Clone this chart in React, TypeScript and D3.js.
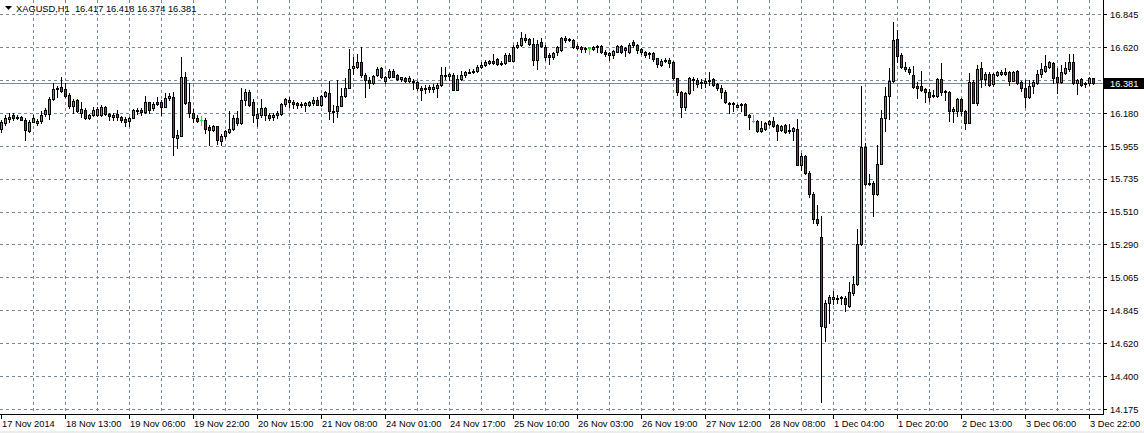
import React from 'react';
import * as d3 from 'd3';

const W = 1144;
const H = 433;

const symbol = 'XAGUSD,H1';
const lastPrice = 16.381;

const opens = [
  16.073,16.111,16.140,16.165,16.156,16.154,16.134,16.055,16.122,16.111,
  16.127,16.174,16.174,16.273,16.343,16.354,16.340,16.302,16.228,16.268,
  16.183,16.201,16.149,16.167,16.167,16.167,16.223,16.170,16.152,16.170,
  16.152,16.140,16.125,16.149,16.192,16.201,16.185,16.251,16.212,16.257,
  16.253,16.223,16.280,16.291,16.010,16.026,16.421,16.251,16.179,16.145,
  16.134,16.134,16.084,16.062,16.089,15.992,16.021,16.048,16.071,16.143,
  16.111,16.268,16.320,16.251,16.149,16.167,16.212,16.167,16.156,16.163,
  16.172,16.239,16.268,16.251,16.246,16.231,16.231,16.235,16.246,16.269,
  16.235,16.296,16.314,16.195,16.190,16.228,16.296,16.352,16.483,16.489,
  16.523,16.438,16.404,16.381,16.438,16.483,16.393,16.422,16.465,16.438,
  16.408,16.415,16.397,16.399,16.386,16.352,16.341,16.354,16.343,16.348,
  16.366,16.438,16.433,16.438,16.336,16.411,16.438,16.456,16.460,16.467,
  16.492,16.507,16.521,16.532,16.543,16.521,16.516,16.573,16.532,16.624,
  16.640,16.690,16.678,16.647,16.539,16.658,16.629,16.573,16.555,16.595,
  16.606,16.690,16.681,16.674,16.636,16.627,16.618,16.618,16.613,16.624,
  16.636,16.595,16.584,16.573,16.595,16.636,16.608,16.590,16.658,16.640,
  16.613,16.590,16.579,16.583,16.550,16.504,16.532,16.538,16.527,16.415,
  16.320,16.217,16.313,16.410,16.403,16.392,16.381,16.397,16.408,16.374,
  16.352,16.320,16.250,16.246,16.221,16.239,16.241,16.167,16.127,16.127,
  16.061,16.070,16.108,16.127,16.100,16.066,16.100,16.068,16.061,16.070,
  15.830,15.890,15.773,15.634,15.465,15.341,14.734,14.896,14.925,14.930,
  14.930,14.930,14.873,14.963,15.024,15.294,15.949,15.706,15.706,15.632,
  15.836,16.144,16.295,16.399,16.680,16.572,16.493,16.477,16.437,16.363,
  16.363,16.340,16.325,16.297,16.297,16.408,16.329,16.320,16.190,16.194,
  16.273,16.194,16.115,16.387,16.250,16.482,16.408,16.442,16.374,16.437,
  16.446,16.455,16.455,16.399,16.464,16.387,16.347,16.291,16.365,16.381,
  16.442,16.464,16.493,16.516,16.426,16.392,16.448,16.475,16.527,16.381,
  16.410,16.381,16.381,16.417,
];

const highs = [
  16.134,16.165,16.179,16.179,16.163,16.161,16.145,16.129,16.167,16.138,
  16.190,16.212,16.291,16.381,16.363,16.421,16.381,16.313,16.273,16.275,
  16.257,16.212,16.174,16.219,16.219,16.235,16.228,16.183,16.179,16.201,
  16.161,16.156,16.156,16.206,16.212,16.212,16.295,16.257,16.257,16.291,
  16.268,16.313,16.318,16.320,16.066,16.556,16.460,16.381,16.206,16.167,
  16.161,16.145,16.098,16.098,16.093,16.037,16.066,16.190,16.167,16.190,
  16.347,16.340,16.336,16.273,16.212,16.273,16.219,16.183,16.183,16.190,
  16.246,16.284,16.291,16.268,16.257,16.253,16.253,16.258,16.291,16.291,
  16.303,16.330,16.397,16.235,16.404,16.348,16.415,16.613,16.557,16.577,
  16.624,16.449,16.426,16.438,16.494,16.489,16.433,16.478,16.478,16.444,
  16.426,16.422,16.433,16.411,16.393,16.359,16.366,16.366,16.377,16.381,
  16.494,16.494,16.453,16.449,16.438,16.465,16.465,16.474,16.478,16.505,
  16.523,16.539,16.539,16.577,16.550,16.528,16.588,16.584,16.640,16.663,
  16.726,16.714,16.685,16.685,16.674,16.685,16.640,16.584,16.595,16.636,
  16.696,16.701,16.690,16.681,16.645,16.636,16.629,16.622,16.636,16.640,
  16.640,16.606,16.595,16.606,16.640,16.640,16.628,16.651,16.673,16.644,
  16.622,16.599,16.595,16.595,16.554,16.545,16.550,16.554,16.532,16.419,
  16.329,16.325,16.426,16.426,16.415,16.410,16.415,16.455,16.415,16.385,
  16.370,16.336,16.257,16.257,16.239,16.246,16.246,16.174,16.167,16.133,
  16.127,16.117,16.133,16.156,16.104,16.100,16.104,16.104,16.082,16.140,
  15.908,15.897,15.785,15.643,15.560,15.481,14.912,14.952,14.979,14.952,
  14.941,14.941,15.037,15.076,15.398,16.365,15.976,15.767,15.717,15.964,
  16.201,16.358,16.482,16.797,16.741,16.583,16.527,16.493,16.498,16.392,
  16.464,16.352,16.342,16.336,16.414,16.516,16.336,16.329,16.223,16.280,
  16.280,16.201,16.448,16.403,16.504,16.527,16.459,16.455,16.448,16.464,
  16.471,16.482,16.464,16.464,16.471,16.399,16.403,16.403,16.403,16.471,
  16.516,16.572,16.532,16.527,16.482,16.504,16.527,16.577,16.577,16.410,
  16.414,16.392,16.426,16.418,
];

const lows = [
  16.048,16.100,16.122,16.134,16.138,16.129,15.994,16.048,16.116,16.100,
  16.111,16.161,16.138,16.268,16.291,16.325,16.291,16.212,16.183,16.185,
  16.156,16.138,16.138,16.161,16.161,16.161,16.163,16.134,16.134,16.129,
  16.122,16.089,16.093,16.145,16.174,16.167,16.179,16.179,16.201,16.235,
  16.167,16.219,16.268,15.895,15.942,16.021,16.242,16.156,16.116,16.122,
  16.100,16.044,15.965,16.055,15.972,15.965,16.010,16.044,16.066,16.100,
  16.107,16.235,16.228,16.116,16.093,16.156,16.129,16.129,16.134,16.145,
  16.167,16.228,16.223,16.212,16.212,16.217,16.195,16.224,16.235,16.231,
  16.228,16.291,16.141,16.118,16.156,16.224,16.291,16.348,16.442,16.483,
  16.426,16.287,16.348,16.375,16.433,16.415,16.381,16.415,16.420,16.406,
  16.399,16.388,16.388,16.343,16.336,16.269,16.314,16.325,16.325,16.285,
  16.359,16.411,16.404,16.332,16.332,16.404,16.426,16.449,16.451,16.460,
  16.487,16.500,16.510,16.510,16.505,16.505,16.512,16.528,16.528,16.618,
  16.636,16.663,16.640,16.505,16.476,16.624,16.539,16.510,16.545,16.573,
  16.602,16.663,16.667,16.618,16.613,16.595,16.595,16.577,16.606,16.595,
  16.584,16.568,16.539,16.550,16.590,16.584,16.568,16.583,16.628,16.583,
  16.577,16.561,16.554,16.534,16.493,16.500,16.522,16.493,16.410,16.302,
  16.156,16.201,16.307,16.336,16.358,16.352,16.358,16.370,16.365,16.336,
  16.284,16.246,16.178,16.190,16.217,16.190,16.163,16.073,16.117,16.054,
  16.054,16.066,16.100,16.088,15.998,16.059,16.043,16.043,15.998,15.825,
  15.796,15.767,15.609,15.436,15.420,14.228,14.637,14.761,14.889,14.896,
  14.889,14.840,14.867,14.952,15.015,15.290,15.690,15.695,15.481,15.627,
  15.834,16.061,16.140,16.392,16.527,16.482,16.466,16.442,16.352,16.280,
  16.329,16.253,16.262,16.291,16.291,16.302,16.268,16.127,16.122,16.160,
  16.167,16.070,16.111,16.246,16.235,16.358,16.369,16.363,16.365,16.430,
  16.437,16.437,16.369,16.397,16.374,16.329,16.217,16.284,16.313,16.374,
  16.426,16.455,16.486,16.381,16.318,16.385,16.442,16.464,16.376,16.309,
  16.365,16.358,16.369,16.374,
];

const closes = [
  16.122,16.145,16.156,16.143,16.145,16.134,16.066,16.122,16.149,16.127,
  16.167,16.201,16.273,16.340,16.352,16.331,16.298,16.228,16.264,16.190,
  16.210,16.145,16.167,16.201,16.206,16.219,16.170,16.161,16.167,16.152,
  16.134,16.122,16.149,16.197,16.201,16.188,16.251,16.201,16.242,16.239,
  16.219,16.284,16.298,16.017,16.030,16.426,16.246,16.179,16.145,16.125,
  16.134,16.071,16.066,16.089,15.994,16.026,16.055,16.073,16.145,16.111,
  16.268,16.325,16.235,16.167,16.174,16.215,16.167,16.145,16.167,16.179,
  16.242,16.273,16.251,16.242,16.235,16.242,16.246,16.251,16.269,16.235,
  16.296,16.321,16.190,16.186,16.228,16.296,16.352,16.478,16.496,16.523,
  16.438,16.402,16.381,16.433,16.476,16.422,16.422,16.465,16.424,16.411,
  16.424,16.397,16.415,16.388,16.348,16.336,16.352,16.343,16.354,16.370,
  16.438,16.431,16.442,16.336,16.411,16.438,16.460,16.460,16.465,16.494,
  16.505,16.523,16.528,16.516,16.512,16.514,16.573,16.532,16.624,16.640,
  16.690,16.674,16.647,16.539,16.647,16.636,16.557,16.555,16.584,16.629,
  16.690,16.674,16.674,16.629,16.622,16.613,16.613,16.618,16.629,16.636,
  16.595,16.577,16.573,16.602,16.636,16.595,16.622,16.640,16.640,16.606,
  16.590,16.572,16.583,16.545,16.509,16.532,16.538,16.520,16.415,16.325,
  16.217,16.318,16.415,16.403,16.374,16.381,16.399,16.403,16.370,16.347,
  16.320,16.253,16.246,16.239,16.235,16.235,16.167,16.154,16.127,16.059,
  16.077,16.111,16.127,16.095,16.059,16.095,16.050,16.061,16.077,15.830,
  15.890,15.773,15.632,15.465,15.436,14.738,14.896,14.936,14.934,14.923,
  14.934,14.885,14.970,15.024,15.294,15.953,15.699,15.699,15.632,15.834,
  16.144,16.295,16.399,16.673,16.567,16.489,16.475,16.455,16.358,16.347,
  16.336,16.320,16.291,16.302,16.408,16.325,16.320,16.194,16.205,16.273,
  16.194,16.115,16.387,16.250,16.477,16.410,16.442,16.369,16.442,16.455,
  16.455,16.446,16.399,16.455,16.381,16.347,16.291,16.365,16.387,16.442,
  16.477,16.500,16.527,16.419,16.392,16.455,16.482,16.527,16.381,16.403,
  16.369,16.374,16.419,16.381,
];

const timeLabels = [
  '17 Nov 2014', '18 Nov 13:00', '19 Nov 06:00', '19 Nov 22:00', '20 Nov 15:00',
  '21 Nov 08:00', '24 Nov 01:00', '24 Nov 17:00', '25 Nov 10:00', '26 Nov 03:00',
  '26 Nov 19:00', '27 Nov 12:00', '28 Nov 08:00', '1 Dec 04:00', '1 Dec 20:00',
  '2 Dec 13:00', '3 Dec 06:00', '3 Dec 22:00',
];
const barsPerLabel = 16;
const barsPerGrid = 8;

const priceTicks = [16.845, 16.6225, 16.4, 16.1775, 15.955, 15.7325, 15.51, 15.2875, 15.065, 14.8425, 14.62, 14.3975, 14.175];
const priceTickLabels = ['16.845', '16.620', '16.400', '16.180', '15.955', '15.735', '15.510', '15.290', '15.065', '14.845', '14.620', '14.400', '14.175'];

const GREEN = '#3cb43c';
const RED = '#d01818';
const DOJI = '#00ff00';
const GRID = '#778899';
const FONT = '"Liberation Sans", Arial, sans-serif';
const FS = 9.3;

export default function App() {
  const n = Math.min(opens.length, highs.length, lows.length, closes.length);
  const frameRight = 1103;
  const frameBottom = 414;

  const x = d3.scaleLinear().domain([0, n - 1]).range([1, 1 + 4 * (n - 1)]);
  const y = d3.scaleLinear().domain([14.175, 16.845]).range([409.5, 14.6]);
  const col = (i: number) => Math.round(x(i));
  const row = (v: number) => Math.round(y(v));

  const gridBars = d3.range(barsPerGrid, n, barsPerGrid);
  const labelBars = timeLabels.map((_, k) => k * barsPerLabel);

  const lastRow = Math.floor(y(lastPrice));
  const lo = opens[n - 1], lh = highs[n - 1], ll = lows[n - 1], lc = closes[n - 1];
  const title = `${symbol}  ${lo.toFixed(3)} ${lh.toFixed(3)} ${ll.toFixed(3)} ${lc.toFixed(3)}`;

  return (
    <svg
      width={W}
      height={H}
      viewBox={`0 0 ${W} ${H}`}
      style={{ position: 'absolute', left: 0, top: 0, background: '#fff' }}
      fontFamily={FONT}
      fontSize={FS}
    >
      <rect x={0} y={0} width={W} height={H} fill="#fff" />
      <rect x={0} y={431} width={W} height={2} fill="#ececec" />

      {/* grid */}
      <g shapeRendering="crispEdges" stroke={GRID} strokeWidth={1} strokeDasharray="3,3">
        {priceTicks.map((v, k) => {
          const r = Math.floor(y(v)) + 0.5;
          return <line key={'h' + k} x1={0} x2={frameRight} y1={r} y2={r} />;
        })}
        {gridBars.map((b) => (
          <line key={'v' + b} x1={col(b) + 0.5} x2={col(b) + 0.5} y1={0} y2={frameBottom} />
        ))}
      </g>

      {/* bid line */}
      <line x1={0} x2={frameRight} y1={lastRow + 0.5} y2={lastRow + 0.5} stroke={GRID} strokeWidth={1} shapeRendering="crispEdges" />

      {/* candles */}
      <g shapeRendering="crispEdges">
        {d3.range(n).map((i) => {
          const cx = col(i);
          const o = opens[i], h = highs[i], l = lows[i], c = closes[i];
          const yH = row(h), yL = row(l), yO = row(o), yC = row(c);
          if (o === c) {
            return (
              <g key={i} stroke={DOJI}>
                <line x1={cx + 0.5} x2={cx + 0.5} y1={yH} y2={yL + 1} />
                <line x1={cx - 1} x2={cx + 2} y1={yO + 0.5} y2={yO + 0.5} />
              </g>
            );
          }
          const top = Math.min(yO, yC);
          const bot = Math.max(yO, yC);
          return (
            <g key={i}>
              <line x1={cx + 0.5} x2={cx + 0.5} y1={yH} y2={yL + 1} stroke="#000" />
              <rect x={cx - 0.5} y={top + 0.5} width={2} height={Math.max(bot - top, 1)} fill={c > o ? GREEN : RED} stroke="#000" />
            </g>
          );
        })}
      </g>

      {/* frame */}
      <g stroke="#000" strokeWidth={1} shapeRendering="crispEdges">
        <line x1={frameRight + 0.5} x2={frameRight + 0.5} y1={0} y2={frameBottom + 1} />
        <line x1={0} x2={frameRight + 1} y1={frameBottom + 0.5} y2={frameBottom + 0.5} />
        {priceTicks.map((v, k) => {
          const r = Math.floor(y(v)) + 0.5;
          return <line key={'pt' + k} x1={frameRight + 1} x2={frameRight + 4} y1={r} y2={r} />;
        })}
        {labelBars.map((b) => (
          <line key={'tt' + b} x1={col(b) + 0.5} x2={col(b) + 0.5} y1={frameBottom + 1} y2={frameBottom + 5} />
        ))}
      </g>

      {/* price labels (those hidden behind the current-price box are skipped) */}
      <g fill="#000">
        {priceTicks.map((v, k) =>
          Math.abs(y(v) - y(lastPrice)) < 8 ? null : (
            <text key={'pl' + k} x={1110} y={y(v) + 3.3}>{priceTickLabels[k]}</text>
          )
        )}
      </g>

      {/* current price box */}
      <rect x={1104} y={lastRow - 5} width={40} height={11} fill="#000" />
      <text x={1110} y={lastRow + 3.8} fill="#fff">{lastPrice.toFixed(3)}</text>

      {/* time labels */}
      <g fill="#000">
        {labelBars.map((b, k) => (
          <text key={'tl' + k} x={col(b) + 1} y={427}>{timeLabels[k]}</text>
        ))}
      </g>

      {/* title */}
      <polygon points="5,6 12,6 8.5,10" fill="#000" />
      <text x={16} y={12} fill="#000" style={{ whiteSpace: 'pre' }}>{title}</text>
    </svg>
  );
}
